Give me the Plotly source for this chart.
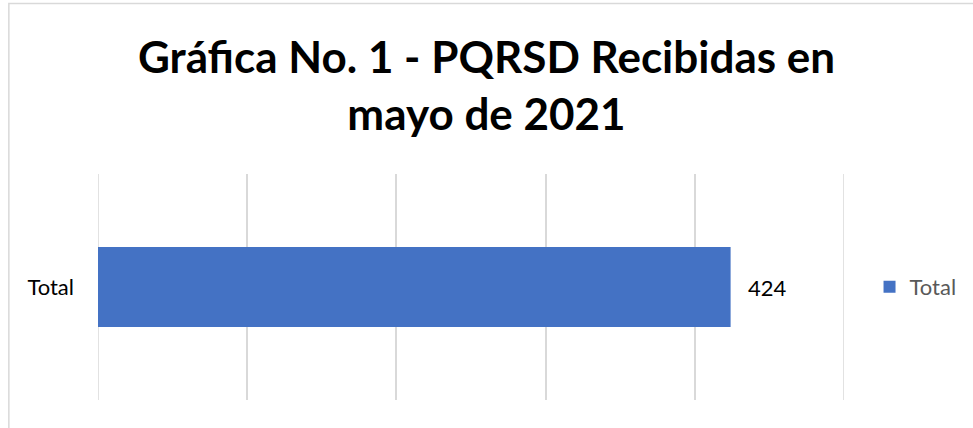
import plotly.graph_objects as go

categories = ["Total"]
values = [424]
series_name = "Total"
title_text = "<b>Gráfica No. 1 - PQRSD Recibidas en<br>mayo de 2021</b>"
grid_edges = [0, 500]

W, H = 973, 428
L, R, T, B = 98, 126, 174, 28
pw, ph = W - L - R, H - T - B

def px_x(px):
    return (px - L) / pw

def px_y(py):
    return (H - B - py) / ph

FONT = "Lato, sans-serif"

fig = go.Figure()
fig.add_trace(go.Bar(
    y=categories, x=values, orientation="h", name=series_name,
    marker=dict(color="#4472C4", line=dict(width=0)),
    width=0.354,
))

annotations = [dict(x=v, y=c, xref="x", yref="y", text=str(v), showarrow=False,
                    xanchor="left", yanchor="middle", xshift=15,
                    font=dict(family=FONT, size=22, color="#000000"))
               for c, v in zip(categories, values)]

shapes = [dict(type="line", xref="x", yref="paper", x0=g, x1=g, y0=0, y1=1,
               line=dict(color="#d9d9d9", width=1.5), layer="below")
          for g in grid_edges]
shapes.append(dict(type="rect", xref="paper", yref="paper",
                   x0=px_x(8.5), x1=px_x(990), y0=px_y(440), y1=px_y(3.5),
                   line=dict(color="#d9d9d9", width=1.5), fillcolor="rgba(0,0,0,0)",
                   layer="below"))

fig.update_layout(
    width=W, height=H,
    margin=dict(l=L, r=R, t=T, b=B),
    paper_bgcolor="white", plot_bgcolor="white",
    title=dict(text=title_text, x=0.5, xref="container", xanchor="center",
               y=0.83, yref="container", yanchor="middle",
               font=dict(family=FONT, size=44, color="#000000")),
    xaxis=dict(range=[0, 500], dtick=100, showgrid=True, gridcolor="#d9d9d9",
               gridwidth=1.5, showticklabels=False, zeroline=False,
               showline=False, fixedrange=True),
    yaxis=dict(showgrid=False, zeroline=False, showline=False,
               tickfont=dict(family=FONT, size=22, color="#000000"),
               ticks="", ticklabelstandoff=23, range=[-0.5, 0.5]),
    showlegend=True,
    legend=dict(x=px_x(965), y=px_y(287), xanchor="right", yanchor="middle",
                font=dict(family=FONT, size=22, color="#595959"),
                bgcolor="rgba(0,0,0,0)", itemwidth=30),
    annotations=annotations,
    shapes=shapes,
)

fig.write_html("out.html")
